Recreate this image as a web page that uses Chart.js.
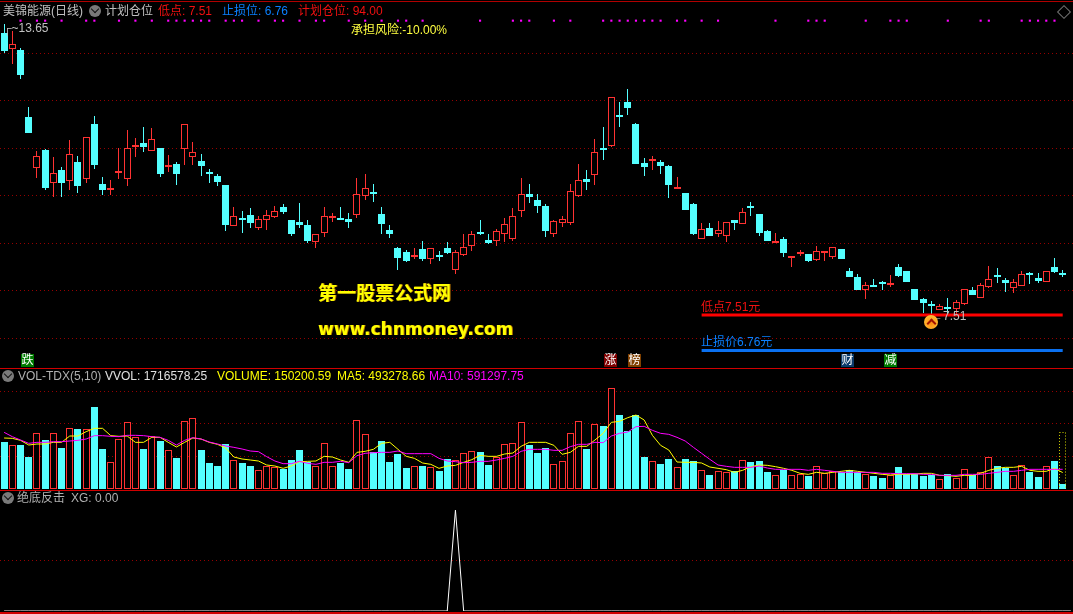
<!DOCTYPE html>
<html>
<head>
<meta charset="utf-8">
<script src="https://cdn.jsdelivr.net/npm/chart.js@4"></script>
<style>
html, body { margin: 0; padding: 0; background: #000; width: 1073px; height: 614px; overflow: hidden; }
body { position: relative; font: 12px "Liberation Sans", "Noto Sans CJK SC", sans-serif; }
canvas { position: absolute; left: 0; }
.t { position: absolute; white-space: pre; line-height: 14px; z-index: 5; }
.rule { position: absolute; left: 0; width: 1073px; height: 1px; background: #b00000; z-index: 4; }
.icon { position: absolute; width: 12px; height: 12px; border-radius: 6px; background: #7a7a7a; z-index: 5; }
.icon:after { content: ""; position: absolute; left: 3px; top: 1px; width: 5px; height: 5px; border-right: 1px solid #111; border-bottom: 1px solid #111; transform: rotate(45deg); }
.tag { position: absolute; top: 354px; width: 13px; height: 13px; line-height: 13px; text-align: center; color: #fff; font-size: 12px; z-index: 5; }
</style>
</head>
<body>
<canvas id="priceChart" width="1075" height="368" style="top:0"></canvas>
<canvas id="volChart" width="1075" height="120" style="top:369px"></canvas>
<canvas id="xgChart" width="1075" height="120" style="top:491px"></canvas>

<div class="rule" style="top:1px"></div>
<div class="rule" style="top:368px;background:#d00000"></div>
<div class="rule" style="top:490px;background:#d00000"></div>
<div class="rule" style="top:612px;height:2px;background:#d00000"></div>

<span class="t" style="left:3px;top:4px;color:#c0c0c0">美锦能源(日线)</span>
<div class="icon" style="left:89px;top:5px"></div>
<span class="t" style="left:105px;top:4px;color:#c0c0c0">计划仓位</span>
<span class="t" style="left:158px;top:4px;color:#f01010">低点: 7.51</span>
<span class="t" style="left:222px;top:4px;color:#0a80ff">止损位: 6.76</span>
<span class="t" style="left:298px;top:4px;color:#f01010">计划仓位: 94.00</span>
<span class="t" style="left:351px;top:23px;color:#ffff40">承担风险:-10.00%</span>
<span class="t" style="left:3px;top:21px;color:#c0c0c0">┌~13.65</span>
<div style="position:absolute;left:1059px;top:7px;width:8px;height:8px;border:1px solid #777;transform:rotate(45deg);z-index:5"></div>

<span class="t" style="left:318px;top:284px;line-height:20px;font-size:19px;font-weight:bold;color:#ffff00;text-shadow:1px 0 0 #b07000">第一股票公式网</span>
<span class="t" style="left:318px;top:318px;line-height:22px;font-size:17px;font-weight:bold;font-family:'DejaVu Sans';color:#ffff00;text-shadow:1px 0 0 #b07000">www.chnmoney.com</span>

<span class="t" style="left:701px;top:300px;color:#f01010">低点7.51元</span>
<span class="t" style="left:701px;top:335px;color:#0a80ff">止损价6.76元</span>
<span class="t" style="left:931px;top:309px;color:#c0c0c0">←7.51</span>
<div style="position:absolute;left:924px;top:315px;width:14px;height:14px;border-radius:7px;background:radial-gradient(circle at 50% 60%,#ff8a10,#ffd040);z-index:6">
  <div style="position:absolute;left:4px;top:5px;width:5px;height:5px;border-left:2px solid #a01000;border-top:2px solid #a01000;transform:rotate(45deg)"></div>
</div>

<span class="tag" style="left:21px;background:#007a00">跌</span>
<span class="tag" style="left:604px;background:#800000">涨</span>
<span class="tag" style="left:628px;background:#804000">榜</span>
<span class="tag" style="left:841px;background:#0a3a6a">财</span>
<span class="tag" style="left:884px;background:#007a00">减</span>

<div class="icon" style="left:2px;top:370px"></div>
<span class="t" style="left:18px;top:369px;color:#b0b0b0">VOL-TDX(5,10)</span>
<span class="t" style="left:105px;top:369px;color:#e0e0e0">VVOL: 1716578.25</span>
<span class="t" style="left:217px;top:369px;color:#ffff00">VOLUME: 150200.59</span>
<span class="t" style="left:337px;top:369px;color:#ffff00">MA5: 493278.66</span>
<span class="t" style="left:429px;top:369px;color:#ff00ff">MA10: 591297.75</span>

<div class="icon" style="left:2px;top:492px"></div>
<span class="t" style="left:17px;top:491px;color:#b0b0b0">绝底反击</span>
<span class="t" style="left:71px;top:491px;color:#b0b0b0">XG: 0.00</span>

<script>
// 日线行情
var opens = [13.46,13.13,13.10,11.69,10.61,10.99,10.30,10.56,10.33,10.73,
  10.39,11.54,10.27,10.18,10.52,10.39,11.05,11.13,10.98,11.03,
  10.65,10.70,11.02,10.85,10.76,10.52,10.44,10.25,9.39,9.56,
  9.62,9.35,9.52,9.58,9.79,9.52,9.47,9.41,9.06,9.25,
  9.56,9.56,9.54,9.63,10.03,10.11,9.64,9.30,8.92,8.84,
  8.73,8.90,8.69,8.78,8.92,8.47,8.78,8.97,9.26,9.09,
  9.08,9.23,9.12,9.71,10.06,9.94,9.81,9.23,9.46,9.46,
  10.03,10.37,10.47,11.03,11.08,11.72,12.00,11.54,10.72,10.75,
  10.74,10.65,10.18,10.08,9.85,9.12,9.35,9.23,9.18,9.52,
  9.44,9.82,9.64,9.28,9.06,9.11,8.73,8.81,8.80,8.67,
  8.85,8.73,8.90,8.44,8.31,8.03,8.14,8.21,8.15,8.52,
  8.44,8.06,7.85,7.74,7.62,7.67,7.63,7.75,8.04,7.86,
  8.10,8.36,8.25,8.09,8.13,8.40,8.29,8.21,8.52,8.40];
var closes = [13.09,13.22,12.58,11.34,10.86,10.19,10.50,10.30,10.90,10.24,
  11.26,10.68,10.15,10.20,10.54,11.03,11.09,11.05,11.22,10.49,
  10.67,10.49,11.53,10.94,10.65,10.49,10.32,9.41,9.60,9.52,
  9.45,9.53,9.63,9.70,9.68,9.22,9.41,9.07,9.21,9.61,
  9.59,9.52,9.47,10.06,10.18,10.06,9.43,9.22,8.71,8.65,
  8.77,8.69,8.92,8.76,8.82,8.83,8.94,9.23,9.24,9.03,
  9.28,9.44,9.59,10.06,10.00,9.81,9.28,9.49,9.53,10.12,
  10.35,10.32,10.96,11.01,12.12,11.69,11.88,10.70,10.63,10.80,
  10.65,10.25,10.22,9.73,9.22,9.32,9.18,9.30,9.47,9.45,
  9.68,9.80,9.24,9.07,9.08,8.82,8.75,8.84,8.65,8.86,
  8.86,8.94,8.69,8.31,8.04,8.14,8.12,8.19,8.18,8.33,
  8.21,7.83,7.76,7.72,7.70,7.65,7.78,8.07,7.93,8.14,
  8.26,8.34,8.19,8.20,8.37,8.38,8.23,8.43,8.42,8.38];
var highs = [13.65,13.50,13.15,11.90,10.97,11.01,10.84,10.63,11.20,10.86,
  11.26,11.71,10.42,10.35,11.03,11.41,11.25,11.48,11.46,11.03,
  10.89,10.74,11.53,11.16,10.91,10.59,10.49,10.25,9.79,9.71,
  9.77,9.60,9.73,9.81,9.85,9.52,9.87,9.52,9.21,9.79,
  9.66,9.79,9.66,10.41,10.49,10.27,9.79,9.41,8.95,8.88,
  8.92,9.07,8.92,8.86,9.05,8.88,9.22,9.28,9.52,9.22,
  9.33,9.56,9.77,10.41,10.27,10.06,9.85,9.52,9.60,10.27,
  10.70,10.57,11.22,11.48,12.12,12.00,12.28,11.56,10.82,10.87,
  10.78,10.68,10.42,10.08,9.87,9.45,9.45,9.49,9.47,9.52,
  9.77,9.90,9.64,9.30,9.24,9.16,8.75,8.88,8.80,8.97,
  8.86,8.94,8.90,8.50,8.38,8.21,8.27,8.23,8.36,8.59,
  8.44,8.06,7.87,7.81,7.74,7.87,7.82,8.07,8.10,8.19,
  8.54,8.50,8.29,8.27,8.44,8.42,8.40,8.43,8.71,8.46];
var lows = [13.03,12.81,12.48,11.34,10.41,10.15,10.01,10.01,10.15,10.09,
  10.30,10.60,10.05,10.05,10.38,10.23,10.84,10.95,10.98,10.42,
  10.53,10.25,10.68,10.68,10.44,10.30,10.23,9.28,9.39,9.24,
  9.35,9.30,9.30,9.56,9.64,9.18,9.35,9.03,8.92,9.16,
  9.47,9.52,9.35,9.56,9.94,9.89,9.22,9.14,8.46,8.63,
  8.69,8.65,8.59,8.65,8.80,8.38,8.76,8.86,9.20,9.01,
  8.97,9.05,9.07,9.58,9.87,9.66,9.16,9.16,9.37,9.41,
  10.00,10.15,10.25,10.78,11.06,11.48,11.73,10.70,10.44,10.57,
  10.49,9.98,10.18,9.73,9.20,9.12,9.18,9.16,9.05,9.30,
  9.44,9.59,9.18,9.07,9.06,8.73,8.52,8.76,8.63,8.65,
  8.65,8.69,8.69,8.31,8.04,7.85,8.12,8.04,8.10,8.31,
  8.21,7.83,7.55,7.51,7.62,7.51,7.53,7.72,7.93,7.86,
  8.08,8.19,8.00,7.97,8.12,8.17,8.19,8.21,8.40,8.31];

// 成交量, 单位: 万
var volumes = [141,131,132,96,167,147,167,123,182,180,
  179,246,120,80,149,200,155,120,158,144,
  116,93,203,212,117,78,69,135,86,78,
  69,56,68,67,60,87,117,81,68,137,
  68,78,60,206,164,111,144,81,105,63,
  68,69,65,54,90,86,107,113,111,72,
  95,134,137,200,132,108,123,74,83,167,
  203,120,194,189,302,222,174,222,96,83,
  75,90,65,90,84,56,42,53,50,53,
  86,81,84,51,41,57,41,44,39,68,
  47,53,50,56,50,44,39,33,41,66,
  44,45,39,42,29,45,32,59,42,50,
  96,69,63,41,71,51,36,68,84,15.02];
var ma5 = [153,152,146,132,135,135,140,140,159,159,
  172,182,182,160,158,159,140,140,155,155,
  140,126,140,153,150,140,134,123,96,90,
  87,84,72,69,62,69,82,83,84,98,
  96,87,80,110,113,119,137,140,119,98,
  92,78,74,62,69,71,80,88,101,98,
  98,105,108,128,140,140,140,131,104,110,
  128,128,147,167,200,203,214,222,207,161,
  131,117,81,80,80,78,66,62,58,50,
  56,67,72,71,67,62,56,47,44,50,
  47,50,53,56,53,50,47,44,42,44,
  44,45,47,47,41,40,38,41,41,47,
  56,62,65,65,68,56,53,53,62,49.33];
var ma10 = [170,157,147,137,140,140,142,142,144,146,
  150,160,160,158,157,161,161,160,157,155,
  146,132,146,154,150,141,135,129,125,120,
  114,112,97,84,76,76,83,77,74,80,
  80,83,79,100,107,109,110,110,114,106,
  106,106,106,92,84,82,79,80,83,83,
  87,92,98,113,119,119,119,116,116,127,
  134,134,140,139,159,167,171,187,188,176,
  167,164,155,144,125,107,89,72,68,65,
  65,65,69,63,59,59,59,59,56,59,
  56,53,50,50,50,50,50,47,47,46,
  46,46,44,44,41,41,41,44,44,44,
  47,50,53,53,56,59,59,59,59,59.13];
var wvol = 171.66;

// 信号和价位
var signalBars = [2,4,5,7,10,11,14,16,18,20,21,22,23,24,25,27,28,29,31,33,34,36,38,39,42,
  44,46,48,49,51,58,62,63,64,67,69,73,74,75,76,77,78,79,80,82,83,85,87,
  94,98,99,100,105,108,109,110,115,119,120,124,125,126,127,128];
var signalLevel = 13.72;
var lowPrice = 7.51;
var stopPrice = 6.76;
var levelFrom = 85;
var xgBar = 55;

var priceGrid = [13.03,12.04,11.03,10.03,9.02,8.03,7.02];
var volGrid = [98,197,293];
var xgGrid = [0.5];

// one empty slot on the right so the last bar sits where it should
var labels = closes.map(function (c, i) { return i; }).concat([130]);

var RED = "#ff3232";
var CYAN = "#54ffff";
var GRID = "#960000";

function isUp(i) { return closes[i] >= opens[i]; }
function upColor(i) { return isUp(i) ? RED : CYAN; }
function bodyFill(i) { return isUp(i) ? "#000000" : CYAN; }

function axes(min, max, grid) {
  return {
    x: { display: false, offset: true, grid: { display: false } },
    y: {
      min: min, max: max,
      afterBuildTicks: function (scale) { scale.ticks = grid.map(function (v) { return { value: v }; }); },
      ticks: { display: false },
      border: { display: false, dash: [1, 3] },
      grid: { color: GRID, drawTicks: false, tickLength: 0, lineWidth: 1 }
    }
  };
}

// the terminal draws on whole pixels, so snap the bars after the scales placed them
var snapBars = {
  id: "snapBars",
  afterDatasetsUpdate: function (chart) {
    chart.getSortedVisibleDatasetMetas().forEach(function (meta) {
      if (meta.type !== "bar") return;
      meta.data.forEach(function (el) {
        el.x = Math.floor(el.x) + 0.5;
        var top = Math.round(Math.min(el.y, el.base));
        var bottom = Math.round(Math.max(el.y, el.base));
        if (bottom - top < 2) bottom = top + 2;
        el.y = top;
        el.base = bottom;
        el.height = bottom - top;
      });
    });
  }
};

var baseOptions = function (scales) {
  return {
    responsive: false,
    animation: false,
    events: [],
    layout: { padding: 0, autoPadding: false },
    plugins: { legend: { display: false }, tooltip: { enabled: false } },
    scales: scales
  };
};

function levelLine(value, color) {
  return {
    type: "line", order: 0,
    data: labels.map(function (i) { return i >= levelFrom && i < 130 ? value : null; }),
    borderColor: color, borderWidth: 3, pointRadius: 0
  };
}

new Chart(document.getElementById("priceChart"), {
  type: "bar",
  data: {
    labels: labels,
    datasets: [
      {
        order: 3, grouped: false, barThickness: 1, inflateAmount: 0,
        data: closes.map(function (c, i) { return [lows[i], highs[i]]; }),
        backgroundColor: closes.map(function (c, i) { return upColor(i); })
      },
      {
        order: 2, grouped: false, barThickness: 7, inflateAmount: 0, borderWidth: 1, borderSkipped: false,
        data: closes.map(function (c, i) { return [opens[i], closes[i]]; }),
        backgroundColor: closes.map(function (c, i) { return bodyFill(i); }),
        borderColor: closes.map(function (c, i) { return upColor(i); })
      },
      {
        type: "line", order: 1, showLine: false,
        data: labels.map(function (i) { return signalBars.indexOf(i) >= 0 ? signalLevel : null; }),
        pointStyle: "rect", pointRadius: 1.5, pointBackgroundColor: "#ff00ff", pointBorderWidth: 0
      },
      levelLine(lowPrice, "#ff0000"),
      levelLine(stopPrice, "#0a70f0")
    ]
  },
  options: baseOptions(axes(6.393, 14.156, priceGrid)),
  plugins: [snapBars]
});

// VVOL is a dotted box over the last bar
var wvolBox = {
  id: "wvolBox",
  afterDatasetsDraw: function (chart) {
    var x = chart.scales.x.getPixelForValue(closes.length - 1);
    var top = chart.scales.y.getPixelForValue(wvol);
    var bottom = chart.scales.y.getPixelForValue(0);
    var c = chart.ctx;
    c.save();
    c.strokeStyle = "#d8d800";
    c.setLineDash([1, 2]);
    c.strokeRect(Math.floor(x) - 3 + 0.5, Math.round(top) + 0.5, 6, bottom - top);
    c.restore();
  }
};

new Chart(document.getElementById("volChart"), {
  type: "bar",
  data: {
    labels: labels,
    datasets: [
      {
        order: 2, barThickness: 7, inflateAmount: 0, borderWidth: 1, borderSkipped: false,
        data: volumes,
        backgroundColor: closes.map(function (c, i) { return bodyFill(i); }),
        borderColor: closes.map(function (c, i) { return upColor(i); })
      },
      { type: "line", order: 1, data: ma5, borderColor: "#ffff00", borderWidth: 1, pointRadius: 0 },
      { type: "line", order: 0, data: ma10, borderColor: "#ff00ff", borderWidth: 1, pointRadius: 0 }
    ]
  },
  options: baseOptions(axes(0, 360, volGrid)),
  plugins: [snapBars, wvolBox]
});

new Chart(document.getElementById("xgChart"), {
  type: "line",
  data: {
    labels: labels,
    datasets: [
      {
        data: labels.map(function (i) { return i === xgBar ? 1 : 0; }),
        borderColor: "#ffffff", borderWidth: 1, pointRadius: 0, clip: false
      }
    ]
  },
  options: baseOptions(axes(0, 1.19, xgGrid))
});
</script>
</body>
</html>
